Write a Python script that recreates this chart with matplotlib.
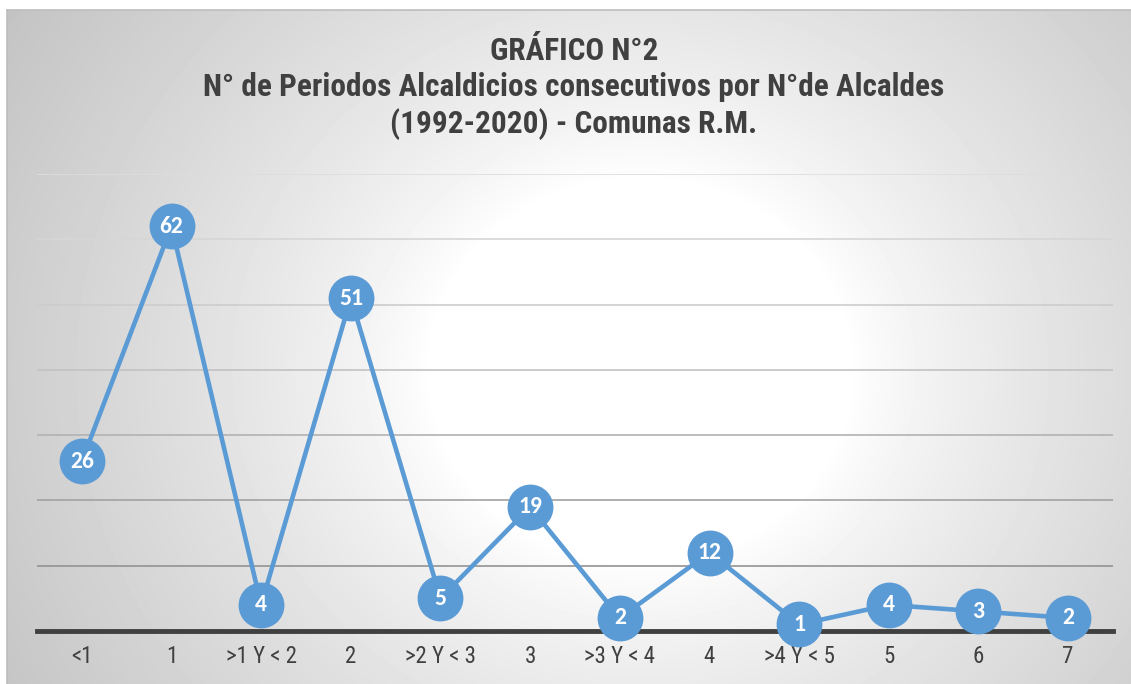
import numpy as np
import matplotlib
matplotlib.use('Agg')
import matplotlib.pyplot as plt
from matplotlib import font_manager

# ---- DATA ---- #
categorias = ['<1', '1', '>1 Y < 2', '2', '>2 Y < 3', '3', '>3 Y < 4', '4',
              '>4 Y < 5', '5', '6', '7']
alcaldes = [26, 62, 4, 51, 5, 19, 2, 12, 1, 4, 3, 2]
grid_vals = [10, 20, 30, 40, 50, 60, 70]

titulo = ('GRÁFICO N°2\n'
          'N° de Periodos Alcaldicios consecutivos por N°de Alcaldes\n'
          '(1992-2020) - Comunas R.M.')

# ---- FONTS ---- #
nombres = {f.name for f in font_manager.fontManager.ttflist}


def elegir(opciones):
    for o in opciones:
        if o in nombres:
            return o
    return 'DejaVu Sans'


narrow = elegir(['Liberation Sans Narrow', 'Arial Narrow', 'Roboto Condensed',
                 'PT Sans Narrow', 'Archivo Narrow', 'Liberation Sans'])
etiqueta = elegir(['Carlito', 'Calibri', 'Open Sans'])

# ---- FIGURE ---- #
W, H = 1131, 684
fig = plt.figure(figsize=(W / 100, H / 100), dpi=100)
fig.patch.set_facecolor('white')

# background radial gradient
bg = fig.add_axes([7 / W, 0, 1 - 7 / W, 1 - 10 / H])
yy, xx = np.mgrid[10:H, 7:W]
r = np.hypot(xx - 640, (yy - 370) * 1.1)
g = 255 - 60 * np.clip((r - 210) / 540, 0, 1) ** 0.8
bg.imshow(g, cmap='gray', vmin=0, vmax=255, aspect='auto',
          extent=[0, 1, 0, 1], interpolation='bilinear')
bg.set_xlim(0, 1)
bg.set_ylim(0, 1)
for s in ['bottom', 'right']:
    bg.spines[s].set_visible(False)
for s in ['top', 'left']:
    bg.spines[s].set_color('#bdbdbd')
    bg.spines[s].set_linewidth(1.2)
bg.set_xticks([])
bg.set_yticks([])

# main plot axes
ax = fig.add_axes([37 / W, (H - 631) / H, 1076 / W, (631 - 174) / H])
ax.patch.set_alpha(0)
x = np.arange(len(categorias))

grid_cols = ['#939393', '#a2a2a2', '#b2b2b2', '#c2c2c2', '#cdcdcd', '#d6d6d6', '#dddddd']
for v, c in zip(grid_vals, grid_cols):
    ax.axhline(v, color=c, lw=1.2, zorder=1)
ax.axhline(0, color='#404040', lw=3.5, zorder=2, clip_on=False)

ax.plot(x, alcaldes, color='#5b9bd5', lw=3.3, zorder=3, solid_capstyle='round')
ax.plot(x, alcaldes, 'o', color='#5b9bd5', markersize=32, zorder=4, clip_on=False)
for xi, v in zip(x, alcaldes):
    ax.text(xi, v, str(v), color='white', fontsize=17, fontweight='bold',
            family=[etiqueta, 'DejaVu Sans'], ha='center', va='center', zorder=5)

ax.set_xlim(-0.5, len(categorias) - 0.5)
ax.set_ylim(0, 70)
ax.set_yticks([])
ax.set_xticks(x)
ax.set_xticklabels(categorias, family=[narrow, 'DejaVu Sans'], fontsize=16.5, color='#404040')
ax.tick_params(axis='x', length=0, pad=10)
for s in ax.spines.values():
    s.set_visible(False)

# ---- TITLE ---- #
fig.text(574 / W, 1 - 36 / H, titulo, ha='center', va='top', fontsize=22.5,
         fontweight='bold', color='#404040', family=[narrow, 'DejaVu Sans'],
         linespacing=1.25)

fig.savefig('out.png', dpi=100)
